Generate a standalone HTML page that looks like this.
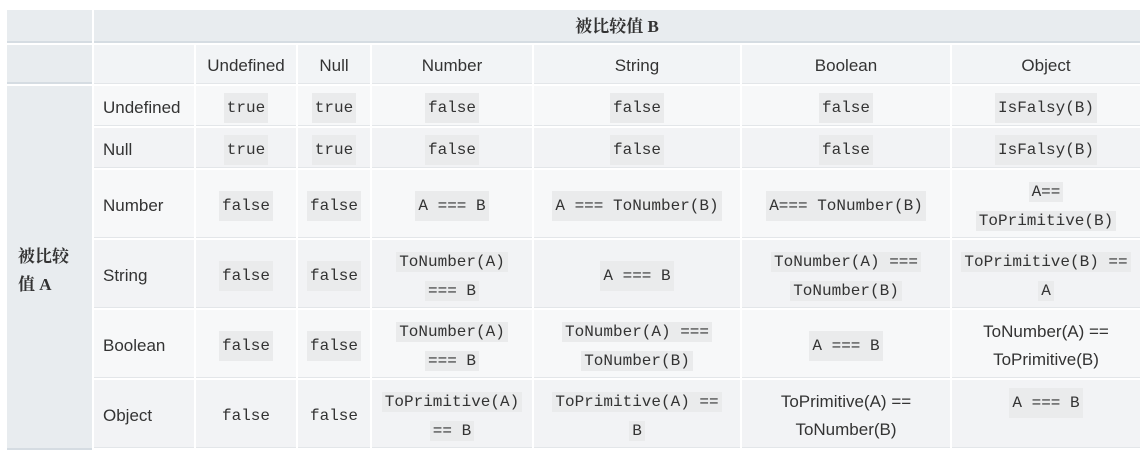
<!DOCTYPE html>
<html><head><meta charset="utf-8"><style>
body{margin:0;background:#fff;width:1146px;height:459px;position:relative;overflow:hidden;font-family:"Liberation Sans","Noto Sans CJK SC",sans-serif;color:#333;font-size:17px}
.c{position:absolute;display:flex;align-items:center;justify-content:center;text-align:center;line-height:28px;box-sizing:border-box;border-bottom:1px solid #e3e6e9;padding-top:4px}
.l{justify-content:flex-start;padding-left:9px}
code{font-family:"Liberation Mono",monospace;font-size:16px;background:#eaebec;padding:1px 3px;color:#333}
code.n{background:none}
.h{background:#e8ecef}
.a{background:#f7f8f9}.b{background:#f2f3f5}.g{background:#f2f4f6}
.s{font-family:"Liberation Serif","Noto Serif CJK SC",serif;font-weight:bold}
</style></head><body>
<div class="c h" style="left:7px;top:10px;width:85px;height:33px;border-bottom:2px solid #d5dce2"></div>
<div class="c h" style="left:94px;top:10px;width:1046px;height:33px;border-bottom:2px solid #d5dce2;padding-top:2px"><span class="s">被比较值 B</span></div>
<div class="c h" style="left:7px;top:45px;width:85px;height:39px;border-bottom:2px solid #d5dce2"></div>
<div class="c h" style="left:7px;top:86px;width:85px;height:364px;border-bottom:2px solid #d5dce2;align-items:flex-start;justify-content:flex-start;padding:157px 0 0 11px;text-align:left"><span class="s">被比较<br>值 A</span></div>

<div class="c g" style="left:94px;top:45px;width:100px;height:39px"></div>
<div class="c g" style="left:196px;top:45px;width:100px;height:39px">Undefined</div>
<div class="c g" style="left:298px;top:45px;width:72px;height:39px">Null</div>
<div class="c g" style="left:372px;top:45px;width:160px;height:39px">Number</div>
<div class="c g" style="left:534px;top:45px;width:206px;height:39px">String</div>
<div class="c g" style="left:742px;top:45px;width:208px;height:39px">Boolean</div>
<div class="c g" style="left:952px;top:45px;width:188px;height:39px">Object</div>

<!-- Undefined -->
<div class="c l a" style="left:94px;top:86px;width:100px;height:40px">Undefined</div>
<div class="c a" style="left:196px;top:86px;width:100px;height:40px"><code>true</code></div>
<div class="c a" style="left:298px;top:86px;width:72px;height:40px"><code>true</code></div>
<div class="c a" style="left:372px;top:86px;width:160px;height:40px"><code>false</code></div>
<div class="c a" style="left:534px;top:86px;width:206px;height:40px"><code>false</code></div>
<div class="c a" style="left:742px;top:86px;width:208px;height:40px"><code>false</code></div>
<div class="c a" style="left:952px;top:86px;width:188px;height:40px"><code>IsFalsy(B)</code></div>
<!-- Null -->
<div class="c l b" style="left:94px;top:128px;width:100px;height:40px">Null</div>
<div class="c b" style="left:196px;top:128px;width:100px;height:40px"><code>true</code></div>
<div class="c b" style="left:298px;top:128px;width:72px;height:40px"><code>true</code></div>
<div class="c b" style="left:372px;top:128px;width:160px;height:40px"><code>false</code></div>
<div class="c b" style="left:534px;top:128px;width:206px;height:40px"><code>false</code></div>
<div class="c b" style="left:742px;top:128px;width:208px;height:40px"><code>false</code></div>
<div class="c b" style="left:952px;top:128px;width:188px;height:40px"><code>IsFalsy(B)</code></div>
<!-- Number -->
<div class="c l a" style="left:94px;top:170px;width:100px;height:68px">Number</div>
<div class="c a" style="left:196px;top:170px;width:100px;height:68px"><code>false</code></div>
<div class="c a" style="left:298px;top:170px;width:72px;height:68px"><code>false</code></div>
<div class="c a" style="left:372px;top:170px;width:160px;height:68px"><code>A === B</code></div>
<div class="c a" style="left:534px;top:170px;width:206px;height:68px"><code>A === ToNumber(B)</code></div>
<div class="c a" style="left:742px;top:170px;width:208px;height:68px"><code>A=== ToNumber(B)</code></div>
<div class="c a" style="left:952px;top:170px;width:188px;height:68px"><span><code>A==</code><br><code>ToPrimitive(B)</code></span></div>
<!-- String -->
<div class="c l b" style="left:94px;top:240px;width:100px;height:68px">String</div>
<div class="c b" style="left:196px;top:240px;width:100px;height:68px"><code>false</code></div>
<div class="c b" style="left:298px;top:240px;width:72px;height:68px"><code>false</code></div>
<div class="c b" style="left:372px;top:240px;width:160px;height:68px"><span><code>ToNumber(A)</code><br><code>=== B</code></span></div>
<div class="c b" style="left:534px;top:240px;width:206px;height:68px"><code>A === B</code></div>
<div class="c b" style="left:742px;top:240px;width:208px;height:68px"><span><code>ToNumber(A) ===</code><br><code>ToNumber(B)</code></span></div>
<div class="c b" style="left:952px;top:240px;width:188px;height:68px"><span><code>ToPrimitive(B) ==</code><br><code>A</code></span></div>
<!-- Boolean -->
<div class="c l a" style="left:94px;top:310px;width:100px;height:68px">Boolean</div>
<div class="c a" style="left:196px;top:310px;width:100px;height:68px"><code>false</code></div>
<div class="c a" style="left:298px;top:310px;width:72px;height:68px"><code>false</code></div>
<div class="c a" style="left:372px;top:310px;width:160px;height:68px"><span><code>ToNumber(A)</code><br><code>=== B</code></span></div>
<div class="c a" style="left:534px;top:310px;width:206px;height:68px"><span><code>ToNumber(A) ===</code><br><code>ToNumber(B)</code></span></div>
<div class="c a" style="left:742px;top:310px;width:208px;height:68px"><code>A === B</code></div>
<div class="c a" style="left:952px;top:310px;width:188px;height:68px">ToNumber(A) ==<br>ToPrimitive(B)</div>
<!-- Object -->
<div class="c l b" style="left:94px;top:380px;width:100px;height:68px">Object</div>
<div class="c b" style="left:196px;top:380px;width:100px;height:68px"><code class="n">false</code></div>
<div class="c b" style="left:298px;top:380px;width:72px;height:68px"><code class="n">false</code></div>
<div class="c b" style="left:372px;top:380px;width:160px;height:68px"><span><code>ToPrimitive(A)</code><br><code>== B</code></span></div>
<div class="c b" style="left:534px;top:380px;width:206px;height:68px"><span><code>ToPrimitive(A) ==</code><br><code>B</code></span></div>
<div class="c b" style="left:742px;top:380px;width:208px;height:68px">ToPrimitive(A) ==<br>ToNumber(B)</div>
<div class="c b" style="left:952px;top:380px;width:188px;height:68px;align-items:flex-start;padding-top:8px"><code>A === B</code></div>
</body></html>
